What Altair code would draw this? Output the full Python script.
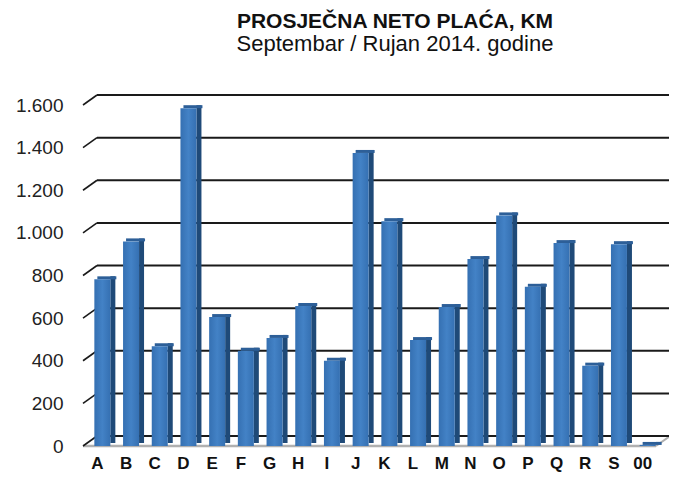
import altair as alt
import pandas as pd

categories = ["A", "B", "C", "D", "E", "F", "G", "H", "I", "J",
              "K", "L", "M", "N", "O", "P", "Q", "R", "S", "00"]
values = [782, 960, 468, 1585, 605, 447, 507, 657, 400, 1375,
          1055, 497, 652, 877, 1082, 747, 952, 377, 947, 5]
ticks = [0, 200, 400, 600, 800, 1000, 1200, 1400, 1600]

df = pd.DataFrame({"cat": categories, "val": values})
gdf = pd.DataFrame({"tick": ticks})

W, H = 574, 341
DX, DY = 14, 10
XO = 5
FONT = "Liberation Sans"

FRONT = alt.Gradient(
    gradient="linear", x1=0, x2=1, y1=0, y2=0,
    stops=[alt.GradientStop(color="#3570b2", offset=0),
           alt.GradientStop(color="#4382c6", offset=0.5),
           alt.GradientStop(color="#3570b2", offset=1)])
SIDE = "#1f4a78"
TOP = "#2d5f98"

xenc = alt.X("cat:N", sort=categories,
             scale=alt.Scale(paddingInner=0.1, paddingOuter=0.05),
             axis=alt.Axis(title=None, labelAngle=0, labelFont=FONT,
                           labelFontSize=17, labelFontWeight="bold",
                           labelColor="#111", ticks=False, domain=False,
                           labelPadding=9, grid=False))
yscale = alt.Scale(domain=[0, 1600], nice=False)
yaxis = alt.Axis(title=None, values=ticks,
                 labelExpr="replace(format(datum.value, ','), ',', '.')",
                 grid=False, ticks=False, domain=False,
                 labelFont=FONT, labelFontSize=19,
                 labelColor="#222", labelPadding=20)
yenc = alt.Y("val:Q", scale=yscale, axis=yaxis)
tenc = alt.Y("tick:Q", scale=yscale, axis=yaxis)

base = alt.Chart(df)
gbase = alt.Chart(gdf)

grid = gbase.mark_rule(yOffset=-DY, color="#1a1a1a", strokeWidth=2).encode(
    y=tenc, x=alt.value(DX), x2=alt.value(W + 14))

diag = gbase.mark_rule(y2Offset=-DY, color="#1a1a1a", strokeWidth=1.6).encode(
    y=tenc, y2=alt.Y2("tick:Q"),
    x=alt.value(0), x2=alt.value(DX))

floor_front = gbase.transform_filter("datum.tick == 0").mark_rule(
    color="#b0b0b0", strokeWidth=2.5).encode(
    y=tenc, x=alt.value(0), x2=alt.value(W - 1))

floor_side = gbase.transform_filter("datum.tick == 0").mark_rule(
    y2Offset=-DY, color="#b0b0b0", strokeWidth=2).encode(
    y=tenc, y2=alt.Y2("tick:Q"),
    x=alt.value(W - 1), x2=alt.value(W + 13))

side = base.mark_bar(width=5, xOffset=XO + 10.5, yOffset=-3, y2Offset=-3,
                     color=SIDE).encode(x=xenc, y=yenc)
top = base.mark_bar(width=19, xOffset=XO + 4.5, yOffset=-3, color=TOP).encode(
    x=xenc, y=yenc, y2=alt.Y2("val:Q"))
front = base.mark_bar(width=16, xOffset=XO, color=FRONT).encode(x=xenc, y=yenc)

chart = alt.layer(floor_front, floor_side, grid, diag, side, top, front).properties(
    width=W, height=H,
    autosize=alt.AutoSizeParams(type="none"),
    padding={"left": 75, "top": 97, "right": 12, "bottom": 30},
    title=alt.TitleParams(
        text="PROSJEČNA NETO PLAĆA, KM",
        subtitle="Septembar / Rujan 2014. godine",
        font=FONT, fontSize=21, fontWeight="bold", color="#111",
        subtitleFont=FONT, subtitleFontSize=22, subtitleColor="#111",
        subtitlePadding=2,
        anchor="middle", offset=39, dx=25)
).configure_view(strokeWidth=0)

chart.save("out.html", embed_options={"renderer": "svg", "actions": False})
